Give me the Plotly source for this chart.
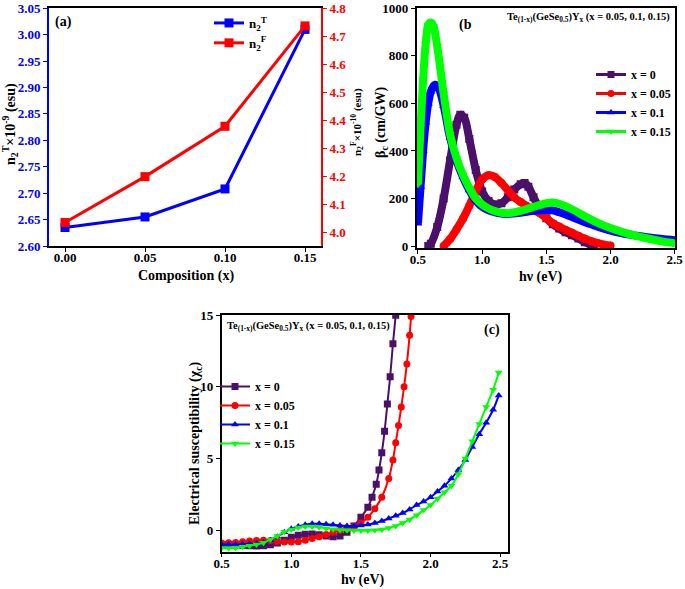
import plotly.graph_objects as go

W, H = 685, 589

# ---- panel (a) data ----
comp_x = [0.00, 0.05, 0.10, 0.15]
n2_T = [2.635, 2.655, 2.708, 3.010]
n2_F = [4.034, 4.198, 4.378, 4.737]

# ---- panel (b) data : beta_c (cm/GW) vs hv (eV) ----
b0_x = [0.58, 0.60, 0.65, 0.70, 0.75, 0.80, 0.83, 0.86, 0.90, 0.95, 1.00, 1.05, 1.10, 1.15, 1.20,
        1.25, 1.30, 1.33, 1.36, 1.40, 1.45, 1.50, 1.55, 1.60, 1.65, 1.70, 1.75, 1.80, 1.85, 1.87]
b0_y = [0, 10, 80, 200, 360, 510, 552, 540, 450, 320, 230, 190, 175, 180, 205,
        238, 260, 265, 250, 205, 158, 117, 92, 74, 58, 46, 32, 16, 5, 0]

b1_x = [0.70, 0.75, 0.80, 0.85, 0.90, 0.95, 1.00, 1.05, 1.10, 1.15, 1.20, 1.25, 1.30, 1.35,
        1.40, 1.45, 1.50, 1.55, 1.60, 1.65, 1.70, 1.75, 1.80, 1.85, 1.90, 1.95, 2.00]
b1_y = [0, 30, 70, 115, 170, 230, 280, 298, 290, 265, 235, 205, 185, 168,
        152, 138, 118, 96, 82, 68, 56, 43, 31, 20, 12, 6, 2]

b2_x = [0.50, 0.52, 0.54, 0.56, 0.58, 0.60, 0.63, 0.66, 0.70, 0.75, 0.80, 0.85, 0.90, 0.95,
        1.00, 1.05, 1.10, 1.15, 1.20, 1.30, 1.40, 1.50, 1.55, 1.60, 1.70, 1.80, 1.90, 2.00,
        2.10, 2.20, 2.30, 2.40, 2.50]
b2_y = [95, 250, 400, 520, 600, 650, 678, 665, 590, 455, 360, 290, 235, 192,
        165, 150, 142, 137, 135, 140, 148, 152, 150, 142, 122, 100, 82, 65,
        53, 44, 36, 30, 25]

b3_x = [0.50, 0.52, 0.54, 0.56, 0.58, 0.60, 0.62, 0.65, 0.70, 0.75, 0.80, 0.85, 0.90, 0.95,
        1.00, 1.05, 1.10, 1.15, 1.20, 1.30, 1.40, 1.50, 1.55, 1.60, 1.70, 1.80, 1.90, 2.00,
        2.10, 2.20, 2.30, 2.40, 2.50]
b3_y = [260, 500, 700, 850, 930, 940, 925, 840, 640, 470, 370, 300, 245, 200,
        175, 158, 147, 140, 138, 148, 165, 180, 183, 178, 155, 125, 98, 76,
        58, 43, 31, 20, 12]

# ---- panel (c) data : electrical susceptibility vs hv (eV) ----
c0_x = [0.50, 0.55, 0.60, 0.65, 0.70, 0.75, 0.80, 0.85, 0.90, 0.95, 1.00, 1.05, 1.10, 1.15,
        1.20, 1.25, 1.30, 1.35, 1.40, 1.45, 1.50, 1.55, 1.58, 1.61, 1.63, 1.65, 1.67, 1.69,
        1.71, 1.73, 1.75]
c0_y = [-1.0, -1.0, -1.02, -1.05, -1.08, -1.1, -1.08, -1.02, -0.9, -0.7, -0.5, -0.35, -0.28, -0.27,
        -0.32, -0.4, -0.45, -0.4, -0.15, 0.3, 0.9, 1.6, 2.3, 3.2, 4.2, 5.4, 6.9, 8.8,
        10.7, 13.0, 15.0]

c1_x = [0.50, 0.55, 0.60, 0.65, 0.70, 0.75, 0.80, 0.85, 0.90, 0.95, 1.00, 1.05, 1.10, 1.15,
        1.20, 1.25, 1.30, 1.35, 1.40, 1.45, 1.50, 1.55, 1.60, 1.65, 1.70, 1.73, 1.75, 1.77,
        1.79, 1.81, 1.83, 1.85, 1.86]
c1_y = [-0.9, -0.88, -0.85, -0.8, -0.75, -0.72, -0.7, -0.72, -0.78, -0.82, -0.83, -0.8, -0.7, -0.58,
        -0.45, -0.3, -0.15, 0.0, 0.12, 0.25, 0.5, 0.9, 1.5, 2.3, 3.6, 4.9, 6.1, 7.3,
        8.6, 10.0, 11.6, 13.6, 14.9]

c2_x = [0.50, 0.55, 0.60, 0.65, 0.70, 0.75, 0.80, 0.85, 0.90, 0.95, 1.00, 1.05, 1.10, 1.15,
        1.20, 1.25, 1.30, 1.35, 1.40, 1.45, 1.50, 1.55, 1.60, 1.65, 1.70, 1.75, 1.80, 1.85,
        1.90, 1.95, 2.00, 2.05, 2.10, 2.15, 2.20, 2.25, 2.30, 2.35, 2.40, 2.45, 2.49]
c2_y = [-1.0, -1.0, -1.0, -0.98, -0.95, -0.92, -0.85, -0.7, -0.45, -0.15, 0.1, 0.25, 0.38, 0.45,
        0.45, 0.42, 0.38, 0.33, 0.3, 0.3, 0.33, 0.4, 0.5, 0.65, 0.82, 1.0, 1.2, 1.45,
        1.75, 2.0, 2.3, 2.7, 3.1, 3.6, 4.2, 4.9, 5.8, 6.7, 7.5, 8.4, 9.4]

c3_x = [0.50, 0.55, 0.60, 0.65, 0.70, 0.75, 0.80, 0.85, 0.90, 0.95, 1.00, 1.05, 1.10, 1.15,
        1.20, 1.25, 1.30, 1.35, 1.40, 1.45, 1.50, 1.55, 1.60, 1.65, 1.70, 1.75, 1.80, 1.85,
        1.90, 1.95, 2.00, 2.05, 2.10, 2.15, 2.20, 2.25, 2.30, 2.35, 2.40, 2.45, 2.49]
c3_y = [-1.25, -1.25, -1.22, -1.15, -1.08, -1.0, -0.88, -0.65, -0.4, -0.1, 0.05, 0.18, 0.25, 0.25,
        0.2, 0.13, 0.07, 0.02, 0.0, -0.02, -0.03, -0.03, 0.0, 0.05, 0.15, 0.3, 0.5, 0.75,
        1.05, 1.4, 1.75, 2.2, 2.65, 3.1, 3.9, 5.0, 6.2, 7.4, 8.6, 9.8, 11.0]

names = ['x = 0', 'x = 0.05', 'x = 0.1', 'x = 0.15']
colors = ['#4a106a', '#ff0000', '#0000ff', '#00ff00']
symbols = ['square', 'circle', 'triangle-up', 'triangle-down']

FONT = 'Liberation Serif'


def dom_x(a, b):
    return [a / W, b / W]


def dom_y(top, bottom):
    return [1 - bottom / H, 1 - top / H]


fig = go.Figure()

# (a)
fig.add_trace(go.Scatter(x=comp_x, y=n2_T, mode='lines+markers', name='n<sub>2</sub><sup>T</sup>',
                         line=dict(color='#0000ff', width=3),
                         marker=dict(symbol='square', size=9, color='#0000ff'),
                         xaxis='x', yaxis='y', legend='legend'))
fig.add_trace(go.Scatter(x=comp_x, y=n2_F, mode='lines+markers', name='n<sub>2</sub><sup>F</sup>',
                         line=dict(color='#ff0000', width=3),
                         marker=dict(symbol='square', size=9, color='#ff0000'),
                         xaxis='x', yaxis='y2', legend='legend'))

# (b) thick bands, legend entries drawn separately with thin lines
b_series = [(b0_x, b0_y), (b1_x, b1_y), (b2_x, b2_y), (b3_x, b3_y)]
for i, (xs, ys) in enumerate(b_series):
    fig.add_trace(go.Scatter(x=xs, y=ys, mode='lines+markers', showlegend=False,
                             line=dict(color=colors[i], width=8, shape='spline'),
                             marker=dict(symbol=symbols[i], size=8, color=colors[i]),
                             xaxis='x3', yaxis='y3'))
for i in range(4):
    fig.add_trace(go.Scatter(x=[None], y=[None], mode='lines+markers', name=names[i],
                             line=dict(color=colors[i], width=3),
                             marker=dict(symbol=symbols[i], size=7, color=colors[i]),
                             xaxis='x3', yaxis='y3', legend='legend2'))

# (c)
c_series = [(c0_x, c0_y), (c1_x, c1_y), (c2_x, c2_y), (c3_x, c3_y)]
for i, (xs, ys) in enumerate(c_series):
    fig.add_trace(go.Scatter(x=xs, y=ys, mode='lines+markers', name=names[i],
                             line=dict(color=colors[i], width=2, shape='spline'),
                             marker=dict(symbol=symbols[i], size=7, color=colors[i]),
                             xaxis='x4', yaxis='y4', legend='legend3'))

tick_font = dict(family=FONT, size=13, color='black', weight='bold')
common = dict(ticks='outside', ticklen=4, showgrid=False, zeroline=False, showline=True,
              linecolor='black', linewidth=1.5, tickcolor='black', tickfont=tick_font)
xcommon = dict(common, ticklabelstandoff=-5)

leg_font = dict(family=FONT, size=12, weight='bold')

fig.update_layout(
    width=W, height=H,
    margin=dict(l=0, r=0, t=0, b=0, autoexpand=False),
    plot_bgcolor='white', paper_bgcolor='white',
    font=dict(family=FONT, color='black', weight='bold'),
    xaxis=dict(domain=dom_x(49, 321), range=[-0.01, 0.16], tickvals=comp_x, tickformat='.2f',
               anchor='y', mirror=True, **xcommon),
    yaxis=dict(domain=dom_y(8, 246), range=[2.60, 3.0505], dtick=0.05, tickformat='.2f',
               anchor='x', **{**common, 'linecolor': '#0000ff', 'tickcolor': '#0000ff', 'linewidth': 2,
                              'tickfont': {**tick_font, 'color': '#0000ff'}}),
    yaxis2=dict(range=[3.95, 4.801], dtick=0.1, tickformat='.1f', overlaying='y', side='right',
                anchor='x', **{**common, 'linecolor': '#ff0000', 'tickcolor': '#ff0000', 'linewidth': 2,
                               'tickfont': {**tick_font, 'color': '#ff0000'}}),
    xaxis3=dict(domain=dom_x(416.7, 675), range=[0.49, 2.502], dtick=0.5, tickformat='.1f',
                anchor='y3', mirror=True, **xcommon),
    yaxis3=dict(domain=dom_y(8, 248), range=[-8, 1001], dtick=200,
                anchor='x3', mirror=True, **common),
    xaxis4=dict(domain=dom_x(221.7, 507.5), range=[0.5, 2.553], dtick=0.5, tickformat='.1f',
                anchor='y4', mirror=True, **xcommon),
    yaxis4=dict(domain=dom_y(315, 551.7), range=[-1.5, 15.01], dtick=5,
                anchor='x4', mirror=True, **common),
    legend=dict(x=209 / W, y=1 - 8 / H, xanchor='left', yanchor='top', bgcolor='rgba(0,0,0,0)',
                font=dict(family=FONT, size=13, weight='bold'), tracegroupgap=0),
    legend2=dict(x=591 / W, y=1 - 60 / H, xanchor='left', yanchor='top', bgcolor='rgba(0,0,0,0)',
                 font=leg_font, tracegroupgap=0),
    legend3=dict(x=215 / W, y=1 - 372 / H, xanchor='left', yanchor='top', bgcolor='rgba(0,0,0,0)',
                 font=leg_font, tracegroupgap=0),
)

ann_font = dict(family=FONT, size=14, color='black', weight='bold')
te_text = 'Te<sub>(1-x)</sub>(GeSe<sub>0.5</sub>)Y<sub>x</sub> (x = 0.05, 0.1, 0.15)'
annotations = [
    dict(text='(a)', x=53 / W, y=1 - 22 / H, xanchor='left', yanchor='middle', font=ann_font),
    dict(text='(b', x=457 / W, y=1 - 25 / H, xanchor='left', yanchor='middle', font=ann_font),
    dict(text='(c)', x=502 / W, y=1 - 330 / H, xanchor='right', yanchor='middle', font=ann_font),
    dict(text=te_text, x=672 / W, y=1 - 18 / H, xanchor='right', yanchor='middle',
         font=dict(family=FONT, size=10.5, color='black', weight='bold')),
    dict(text=te_text, x=225 / W, y=1 - 326 / H, xanchor='left', yanchor='middle',
         font=dict(family=FONT, size=10.5, color='black', weight='bold')),
    dict(text='Composition (x)', x=186 / W, y=1 - 276 / H, xanchor='center', yanchor='middle',
         font=ann_font),
    dict(text='n<sub>2</sub><sup>T</sup>×10<sup>-9</sup> (esu)', x=10 / W, y=1 - 124 / H,
         xanchor='center', yanchor='middle', textangle=-90, font=ann_font),
    dict(text='n<sub>2</sub><sup>F</sup>×10<sup>-10</sup> (esu)', x=357 / W, y=1 - 122 / H,
         xanchor='center', yanchor='middle', textangle=-90,
         font=dict(family=FONT, size=11, color='black', weight='bold')),
    dict(text='β<sub>c</sub> (cm/GW)', x=382 / W, y=1 - 122 / H, xanchor='center', yanchor='middle',
         textangle=-90, font=ann_font),
    dict(text='hν (eV)', x=541 / W, y=1 - 277 / H, xanchor='center', yanchor='middle', font=ann_font),
    dict(text='hν (eV)', x=363 / W, y=1 - 580 / H, xanchor='center', yanchor='middle', font=ann_font),
    dict(text='Electrical susceptibility (χ<sub>c</sub>)', x=195 / W, y=1 - 443 / H,
         xanchor='center', yanchor='middle', textangle=-90, font=ann_font),
]
for a in annotations:
    a.update(xref='paper', yref='paper', showarrow=False)
fig.update_layout(annotations=annotations)

# the page body has a default 8px margin; remove it so the figure fills the window
fig.write_html("out.html", config={'displayModeBar': False},
               post_script="document.body.style.margin='0px';")
